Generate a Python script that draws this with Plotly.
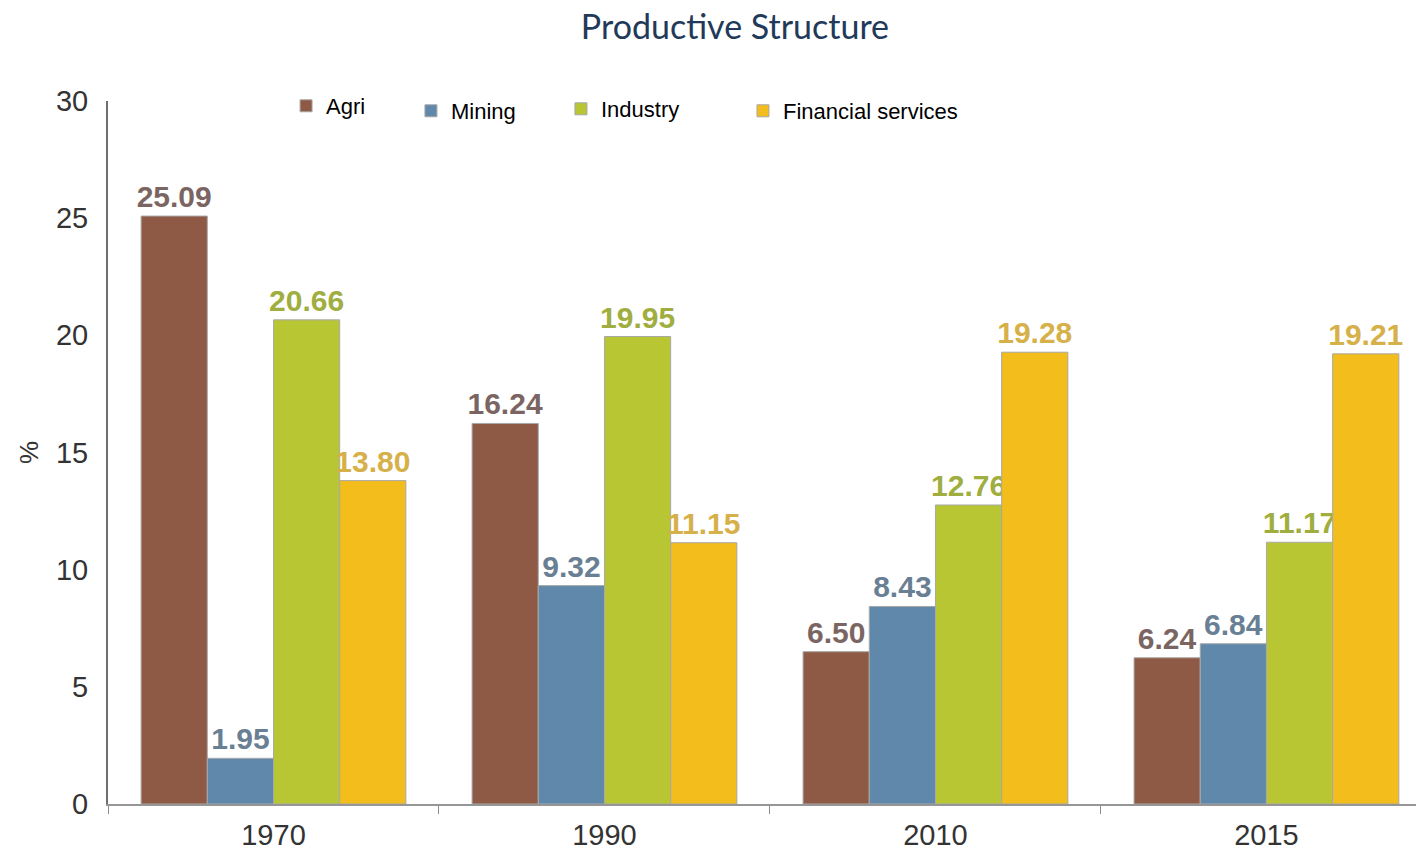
import plotly.graph_objects as go

years = ['1970', '1990', '2010', '2015']
agri = [25.09, 16.24, 6.50, 6.24]
mining = [1.95, 9.32, 8.43, 6.84]
industry = [20.66, 19.95, 12.76, 11.17]
financial = [13.80, 11.15, 19.28, 19.21]

series = [
    ('Agri', agri, '#8e5a45', '#7b6563'),
    ('Mining', mining, '#5f88ab', '#687f94'),
    ('Industry', industry, '#b8c634', '#9fae3f'),
    ('Financial services', financial, '#f3bd1c', '#d6b049'),
]

# one legend per series so each entry sits where the original did
legend_pos = [(0.1353, 0.9929), (0.2302, 0.9858), (0.3442, 0.9886), (0.4825, 0.9858)]

fig = go.Figure()
for i, (name, vals, color, text_color) in enumerate(series):
    fig.add_trace(go.Bar(
        x=years,
        y=vals,
        name=name,
        showlegend=True,
        legend='legend' if i == 0 else f'legend{i + 1}',
        marker=dict(color=color, line=dict(color='#a8a8a8', width=1)),
        text=[f'{v:.2f}' for v in vals],
        textposition='outside',
        constraintext='none',
        cliponaxis=False,
        textfont=dict(family='Liberation Sans, Arial', size=30, color=text_color, weight='bold'),
    ))

legend_font = dict(family='Liberation Sans, Arial', size=22, color='black')
for i, (lx, ly) in enumerate(legend_pos):
    key = 'legend' if i == 0 else f'legend{i + 1}'
    fig.update_layout({key: dict(
        x=lx, xanchor='left', y=ly, yanchor='middle',
        font=legend_font, bgcolor='rgba(255,255,255,0)',
    )})

fig.update_layout(
    width=1424,
    height=854,
    showlegend=True,
    barmode='group',
    bargap=0.2,
    bargroupgap=0,
    paper_bgcolor='white',
    plot_bgcolor='white',
    margin=dict(l=100, r=8, t=93, b=58),
    title=dict(
        text='Productive Structure',
        font=dict(family='Lato, Open Sans', size=34, color='#22395a'),
        x=0.5105, xanchor='center', y=0.978, yanchor='middle',
    ),
    xaxis=dict(
        type='category',
        range=[-0.5, 3.476],
        showline=True, linecolor='#969696', linewidth=2,
        ticks='outside', tickson='boundaries', ticklen=8, tickcolor='#8c8c8c',
        tickfont=dict(family='Liberation Sans, Arial', size=29, color='#333333'),
        ticklabelstandoff=4,
        showgrid=False,
    ),
    yaxis=dict(
        range=[0, 30],
        dtick=5,
        showline=True, linecolor='#6e6e6e', linewidth=2,
        ticks='', showgrid=False, zeroline=False,
        tickfont=dict(family='Liberation Sans, Arial', size=29, color='#333333'),
        ticklabelstandoff=12,
        title=dict(text='%', font=dict(family='Liberation Sans, Arial', size=26, color='#333333'), standoff=10),
    ),
)

fig.write_html('out.html')
